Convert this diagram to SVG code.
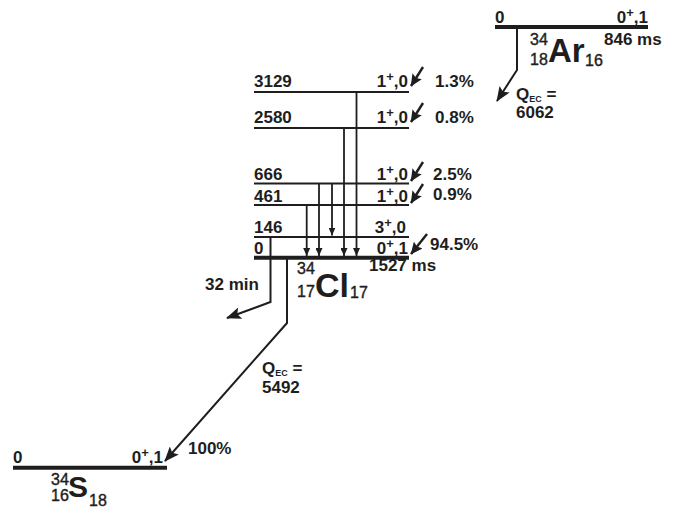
<svg xmlns="http://www.w3.org/2000/svg" width="678" height="508" viewBox="0 0 678 508">
<style>
.t{font-family:"Liberation Sans",Arial,sans-serif;font-weight:bold;font-size:17px;fill:#1e1e1e}
.n{font-family:"Liberation Sans",Arial,sans-serif;font-size:16px;fill:#1e1e1e;stroke:#1e1e1e;stroke-width:0.4}
.big{font-family:"Liberation Sans",Arial,sans-serif;font-weight:bold;fill:#1e1e1e}
.lv{stroke:#1e1e1e;stroke-width:2;fill:none}
.gs{stroke:#1e1e1e;stroke-width:4;fill:none}
.dec{stroke:#1e1e1e;stroke-width:2;fill:none;marker-end:url(#ah)}
.feed{stroke:#1e1e1e;stroke-width:2.4;fill:none;marker-end:url(#as)}
.gam{stroke:#1e1e1e;stroke-width:1.8;fill:none;marker-end:url(#ag)}
</style>
<defs>
<marker id="ah" viewBox="0 0 15 12" refX="14" refY="6" markerWidth="15" markerHeight="12" markerUnits="userSpaceOnUse" orient="auto"><path d="M0,0 L15,6 L0,12 L3,6 z" fill="#1e1e1e"/></marker>
<marker id="as" viewBox="0 0 12 11" refX="11.5" refY="5.5" markerWidth="12" markerHeight="11" markerUnits="userSpaceOnUse" orient="auto"><path d="M0,0 L12,5.5 L0,11 L2,5.5 z" fill="#1e1e1e"/></marker>
<marker id="ag" viewBox="0 0 8 7" refX="8" refY="3.5" markerWidth="8" markerHeight="7" markerUnits="userSpaceOnUse" orient="auto"><path d="M0,0 L8,3.5 L0,7 z" fill="#1e1e1e"/></marker>
</defs>

<g id="ar34">
<line class="gs" x1="495" y1="27" x2="648" y2="27"/>
<text class="t" x="495" y="23">0</text>
<text class="t" x="648" y="23" text-anchor="end">0<tspan font-size="13" dy="-6">+</tspan><tspan dy="6">,1</tspan></text>
<text class="t" x="604" y="45">846 ms</text>
<text class="n" x="530" y="45">34</text>
<text class="big" x="548" y="62" font-size="33">Ar</text>
<text class="n" x="530" y="65">18</text>
<text class="n" x="585" y="66">16</text>
<text class="t" x="516" y="100">Q<tspan font-size="9" dy="2">EC</tspan><tspan dy="-2"> =</tspan></text>
<text class="t" x="516" y="118">6062</text>
</g>

<g id="cl34-3129">
<line class="lv" x1="254" y1="92" x2="409" y2="92"/>
<text class="t" x="254" y="87">3129</text>
<text class="t" x="408" y="87" text-anchor="end">1<tspan font-size="13" dy="-6">+</tspan><tspan dy="6">,0</tspan></text>
<text class="t" x="435" y="87">1.3%</text>
</g>
<g id="cl34-2580">
<line class="lv" x1="254" y1="128" x2="409" y2="128"/>
<text class="t" x="254" y="123">2580</text>
<text class="t" x="408" y="123" text-anchor="end">1<tspan font-size="13" dy="-6">+</tspan><tspan dy="6">,0</tspan></text>
<text class="t" x="435" y="123">0.8%</text>
</g>
<g id="cl34-666">
<line class="lv" x1="254" y1="183.5" x2="409" y2="183.5"/>
<text class="t" x="254" y="179.5">666</text>
<text class="t" x="408" y="179.5" text-anchor="end">1<tspan font-size="13" dy="-6">+</tspan><tspan dy="6">,0</tspan></text>
<text class="t" x="433" y="179.5">2.5%</text>
</g>
<g id="cl34-461">
<line class="lv" x1="254" y1="205" x2="409" y2="205"/>
<text class="t" x="254" y="201.5">461</text>
<text class="t" x="408" y="201.5" text-anchor="end">1<tspan font-size="13" dy="-6">+</tspan><tspan dy="6">,0</tspan></text>
<text class="t" x="433" y="200">0.9%</text>
</g>
<g id="cl34-146">
<line class="lv" x1="254" y1="237" x2="409" y2="237" stroke-width="2.6"/>
<text class="t" x="254" y="232.5">146</text>
<text class="t" x="406" y="232.5" text-anchor="end">3<tspan font-size="13" dy="-6">+</tspan><tspan dy="6">,0</tspan></text>
</g>
<g id="cl34-0">
<line class="gs" x1="254" y1="257.8" x2="409" y2="257.8" stroke-width="3.5"/>
<text class="t" x="254" y="253.5">0</text>
<text class="t" x="408" y="253.5" text-anchor="end">0<tspan font-size="13" dy="-6">+</tspan><tspan dy="6">,1</tspan></text>
<text class="t" x="430" y="250">94.5%</text>
<text class="t" x="369" y="271">1527 ms</text>
<text class="n" x="297" y="274">34</text>
<text class="big" x="315" y="297" font-size="34">Cl</text>
<text class="n" x="297" y="297">17</text>
<text class="n" x="350" y="298">17</text>
<text class="t" x="205" y="290">32 min</text>
<text class="t" x="262" y="374">Q<tspan font-size="9" dy="2">EC</tspan><tspan dy="-2"> =</tspan></text>
<text class="t" x="262" y="393">5492</text>
</g>

<g id="s34">
<line class="gs" x1="13" y1="467.8" x2="167" y2="467.8"/>
<text class="t" x="13" y="463">0</text>
<text class="t" x="163" y="463" text-anchor="end">0<tspan font-size="13" dy="-6">+</tspan><tspan dy="6">,1</tspan></text>
<text class="t" x="188" y="454">100%</text>
<text class="n" x="51" y="485">34</text>
<text class="big" x="68" y="497" font-size="30">S</text>
<text class="n" x="51" y="501">16</text>
<text class="n" x="89" y="506">18</text>
</g>

<g id="connectors">
<polyline class="dec" points="517,29 517,70 497,101"/>
<polyline class="dec" points="270.5,238 270.5,302 227,318"/>
<polyline class="dec" points="287,259 287,323 165,461"/>
<line class="feed" x1="423" y1="67" x2="411" y2="86"/>
<line class="feed" x1="423" y1="103" x2="411" y2="122"/>
<line class="feed" x1="423" y1="162" x2="411" y2="181"/>
<line class="feed" x1="423" y1="184" x2="411" y2="203"/>
<line class="feed" x1="427" y1="234" x2="411" y2="254"/>
<line class="gam" x1="356.5" y1="92" x2="356.5" y2="256"/>
<line class="gam" x1="344" y1="128" x2="344" y2="256"/>
<line class="gam" x1="332" y1="183.5" x2="332" y2="235.5"/>
<line class="gam" x1="319" y1="183.5" x2="319" y2="256"/>
<line class="gam" x1="306.7" y1="205" x2="306.7" y2="256"/>
</g>
</svg>
